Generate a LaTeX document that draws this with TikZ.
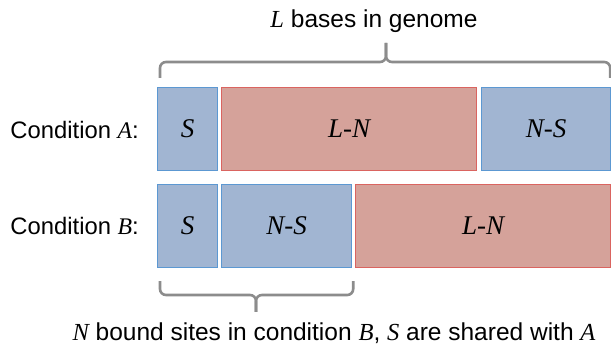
\documentclass[tikz,border=0pt]{standalone}
\usepackage{fontspec}
\setmainfont{Liberation Sans}
\newfontfamily\tnr{Liberation Serif}
\usetikzlibrary{positioning,calc}

\definecolor{fillblue}{RGB}{161,181,210}
\definecolor{bordblue}{RGB}{92,152,210}
\definecolor{fillred}{RGB}{213,162,154}
\definecolor{bordred}{RGB}{218,100,96}
\definecolor{bracegray}{RGB}{140,140,140}

\newcommand{\vn}[1]{{\tnr\itshape #1}}

\tikzset{
  blockbox/.style={draw, line width=1.2pt, minimum height=83pt, inner sep=0pt,
    anchor=north west, font=\tnr\itshape\fontsize{27}{27}\selectfont},
  shared/.style={blockbox, draw=bordblue, fill=fillblue},
  unbound/.style={blockbox, draw=bordred, fill=fillred},
  brace/.style={draw=bracegray, line width=2.6pt, rounded corners=6pt},
  lbl/.style={font=\fontsize{24.5}{26}\selectfont, inner sep=0pt}
}

\begin{document}
\begin{tikzpicture}[x=1pt, y=-1pt]
\useasboundingbox (0,0) rectangle (611,347);

% condition A
\node[shared, minimum width=60pt] (sA) at (157,87) {S};
\node[unbound, minimum width=255pt] (lnA) at (221,87) {L-N};
\node[shared, minimum width=129pt] (nsA) at (481,87) {N-S};

% condition B
\node[shared, minimum width=60pt] (sB) at (157,184) {S};
\node[shared, minimum width=130pt] (nsB) at (221,184) {N-S};
\node[unbound, minimum width=255pt] (lnB) at (355,184) {L-N};

\node[lbl, font=\fontsize{23.8}{26}\selectfont, left=18pt of sA, yshift=-1pt] (condA) {Condition \vn{A}:};
\node[lbl, font=\fontsize{23.8}{26}\selectfont, left=18pt of sB] (condB) {Condition \vn{B}:};

% top brace
\coordinate (tl) at ($(sA.north west)+(3,-9)$);
\coordinate (tr) at ($(nsA.north east)+(-1,-9)$);
\coordinate (tm) at (386,62);
\coordinate (tt) at (386,43);
\draw[brace] (tl) |- (tm) -- (tt);
\draw[brace] (tr) |- (tm) -- (tt);
\node[lbl] (toplbl) at (374,21) {\vn{L} bases in genome};

% bottom brace
\coordinate (bl) at ($(sB.south west)+(3,13)$);
\coordinate (br) at ($(nsB.south east)+(1,13)$);
\coordinate (bm) at (256,295);
\coordinate (bt) at (256,312);
\draw[brace] (bl) |- (bm) -- (bt);
\draw[brace] (br) |- (bm) -- (bt);
\node[lbl] (botlbl) at (334,333) {\vn{N} bound sites in condition \vn{B}, \vn{S} are shared with \vn{A}};
\end{tikzpicture}
\end{document}
